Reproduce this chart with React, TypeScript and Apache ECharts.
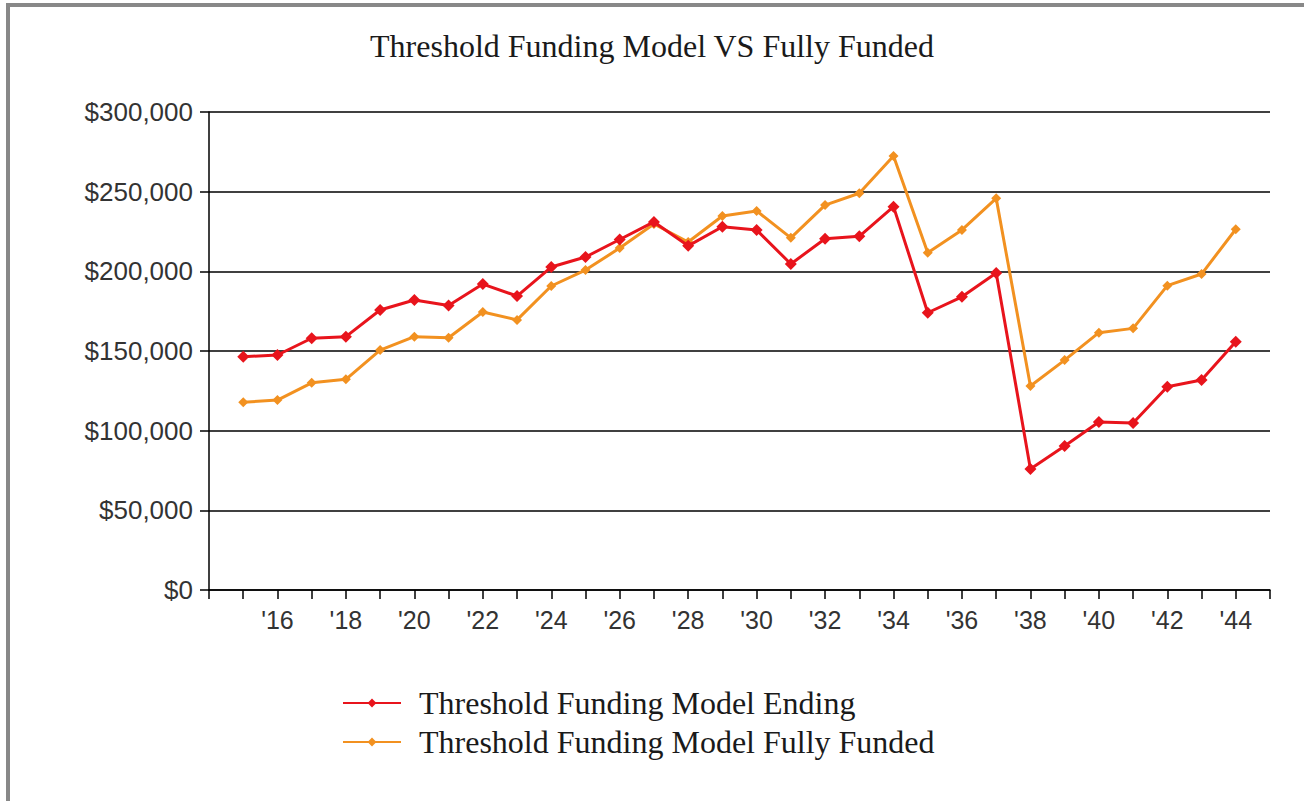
import React, { useEffect, useRef } from "react";
import * as echarts from "echarts";

const years = [2015, 2016, 2017, 2018, 2019, 2020, 2021, 2022, 2023, 2024, 2025, 2026, 2027, 2028, 2029, 2030, 2031, 2032, 2033, 2034, 2035, 2036, 2037, 2038, 2039, 2040, 2041, 2042, 2043, 2044];
const endingValues = [146400, 147500, 158000, 159000, 175700, 182000, 178500, 192000, 184500, 202700, 209000, 220000, 231000, 216000, 228000, 226000, 204600, 220500, 222000, 240600, 174000, 184000, 199000, 76000, 90400, 105400, 104800, 127600, 131800, 155800];
const fullyFundedValues = [117800, 119200, 130000, 132200, 150600, 159000, 158300, 174500, 169500, 190800, 200800, 214600, 229700, 218400, 234700, 237900, 221000, 241600, 249000, 272400, 211700, 226000, 245800, 128000, 144300, 161500, 164200, 191000, 198300, 226400];
const yTicks = [0, 50000, 100000, 150000, 200000, 250000, 300000];
const titleText = "Threshold Funding Model VS Fully Funded";
const seriesNames = ["Threshold Funding Model Ending", "Threshold Funding Model Fully Funded"];

export default function App() {
  const ref = useRef<HTMLDivElement>(null);
  useEffect(() => {
    if (!ref.current) return;
    const chart = echarts.init(ref.current, null, { renderer: "svg" });
    const sans = "'Liberation Sans', Arial, sans-serif";
    const serif = "'Liberation Serif', 'Times New Roman', serif";
    chart.setOption({
      animation: false,
      backgroundColor: "#ffffff",
      title: {
        text: titleText,
        left: "center",
        top: 25,
        textStyle: { fontFamily: serif, fontSize: 32, fontWeight: "normal", color: "#1a1a1a" },
      },
      legend: {
        orient: "vertical",
        left: 337,
        top: 682,
        itemWidth: 58,
        itemHeight: 11,
        itemGap: 7,
        textStyle: { fontFamily: serif, fontSize: 32, color: "#1a1a1a", padding: [0, 0, 0, 13] },
        data: seriesNames,
      },
      graphic: [
        { type: "rect", shape: { x: 6, y: 3, width: 4, height: 798 }, style: { fill: "#888888" } },
        { type: "rect", shape: { x: 6, y: 3, width: 1298, height: 4 }, style: { fill: "#888888" } },
      ],
      grid: { left: 209, right: 34, top: 112, bottom: 211, containLabel: false },
      xAxis: {
        type: "value",
        min: 2014,
        max: 2045,
        interval: 1,
        axisLine: { show: true, lineStyle: { color: "#000", width: 1.5 } },
        axisTick: { show: true, length: 9, lineStyle: { color: "#000", width: 1.5 } },
        splitLine: { show: false },
        axisLabel: {
          margin: 17,
          fontFamily: sans,
          fontSize: 25,
          color: "#333",
          showMinLabel: true,
          showMaxLabel: true,
          formatter: (v: number) => (v % 2 === 0 && v >= 2016 && v <= 2044 ? "'" + String(v % 100).padStart(2, "0") : ""),
        },
      },
      yAxis: {
        type: "value",
        min: yTicks[0],
        max: yTicks[yTicks.length - 1],
        interval: 50000,
        axisLine: { show: true, lineStyle: { color: "#000", width: 1.5 } },
        axisTick: { show: true, length: 9, lineStyle: { color: "#000", width: 1.5 } },
        splitLine: { show: true, lineStyle: { color: "#000", width: 1.5 } },
        axisLabel: {
          margin: 16,
          fontFamily: sans,
          fontSize: 26,
          color: "#333",
          formatter: (v: number) => "$" + v.toLocaleString("en-US"),
        },
      },
      series: [
        {
          name: seriesNames[0],
          type: "line",
          data: years.map((y, i) => [y, endingValues[i]]),
          symbol: "diamond",
          symbolSize: 12,
          lineStyle: { color: "#e8141c", width: 3 },
          itemStyle: { color: "#e8141c" },
          z: 3,
        },
        {
          name: seriesNames[1],
          type: "line",
          data: years.map((y, i) => [y, fullyFundedValues[i]]),
          symbol: "diamond",
          symbolSize: 10,
          lineStyle: { color: "#f29120", width: 3 },
          itemStyle: { color: "#f29120" },
          z: 2,
        },
      ],
    });
    return () => chart.dispose();
  }, []);
  return <div ref={ref} style={{ position: "absolute", left: 0, top: 0, width: 1304, height: 801 }} />;
}
